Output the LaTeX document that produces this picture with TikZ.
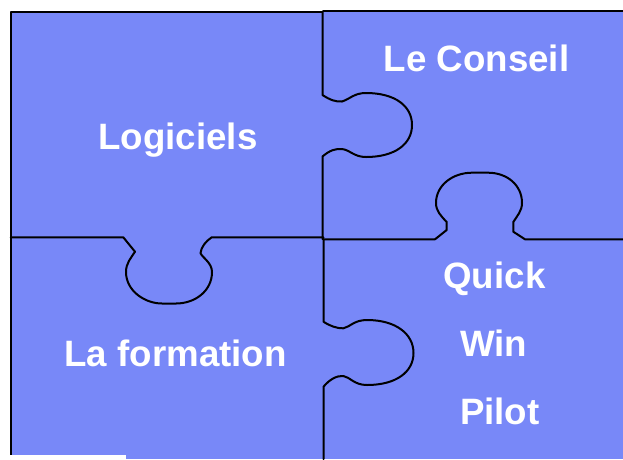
\documentclass[tikz,border=0pt]{standalone}
\usepackage{fontspec}
\setmainfont{Liberation Sans}
\definecolor{piece}{RGB}{120,136,248}
\begin{document}
\begin{tikzpicture}[x=1pt,y=-1pt,
  cut/.style={draw=black,line width=2pt,line join=round,line cap=round},
  lbl/.style={text=white,font=\fontsize{36.7}{44}\selectfont\bfseries,anchor=base,inner sep=0pt}]
\useasboundingbox (0,0) rectangle (623,459);
% background pieces
\fill[piece] (10.7,12) rectangle (623,459);
% outer border
\draw[cut,line cap=butt] (10.7,459) -- (10.7,12) -- (322.5,12);
\draw[cut,line cap=butt] (322.5,11.3) -- (623,11.3);
% upper vertical cut with tab to the right
\draw[cut] (322.5,11.3) -- (322.5,95)
  .. controls (330,100) and (336,102) .. (342,101.5)
  .. controls (350,99) and (354,93) .. (366,93)
  .. controls (395,93) and (412,106) .. (412,125)
  .. controls (412,144) and (395,157) .. (366,157)
  .. controls (354,157) and (350,150) .. (342,149)
  .. controls (336,148.5) and (330,150) .. (322.5,156.5)
  -- (322.5,239);
% lower vertical cut with tab to the right
\draw[cut] (323.5,239) -- (323.5,321.7)
  .. controls (330,326) and (337,328.5) .. (343.3,328.3)
  .. controls (350,327) and (354,320) .. (367,320)
  .. controls (396,320) and (413.5,334) .. (413.5,353)
  .. controls (413.5,372) and (396,385) .. (367,385)
  .. controls (354,385) and (350,377) .. (343.3,376)
  .. controls (337,375.5) and (330,379) .. (323.5,386.7)
  -- (323.5,459);
% left horizontal cut with tab downward
\draw[cut] (10.7,237.3) -- (123.3,237.3) -- (135,251.7)
  .. controls (131,258) and (126,263) .. (126,272)
  .. controls (126,291) and (145,303.5) .. (162,303.5)
  -- (176,303.5)
  .. controls (195,303.5) and (212,291) .. (212,272)
  .. controls (212,263) and (203,258) .. (200.5,253.3)
  .. controls (201,247) and (206,241) .. (211.7,237.3)
  -- (323.5,237.3);
% right horizontal cut with tab upward
\draw[cut] (323.5,239.3) -- (435,239.3) -- (446.7,230) -- (446.7,222)
  .. controls (441,216) and (436,211) .. (436,203)
  .. controls (436,185) and (453,172.7) .. (472,172.7)
  -- (488,172.7)
  .. controls (507,172.7) and (522,185) .. (522,203)
  .. controls (522,211) and (517,216) .. (513.3,222)
  -- (513.3,231.7) -- (525,239.3) -- (623,239.3);
% white strip bottom left
\fill[white] (0,454.5) rectangle (126,459);
% labels
\node[lbl] (conseil) at (476.5,71.7) {Le Conseil};
\node[lbl] (logiciels) at (178,149) {Logiciels};
\node[lbl] (formation) at (175.6,366.7) {La formation};
\node[lbl] (quick) at (494.4,288) {Quick};
\node[lbl] (win) at (493.6,356.7) {Win};
\node[lbl] (pilot) at (499.8,424) {Pilot};
\end{tikzpicture}
\end{document}
